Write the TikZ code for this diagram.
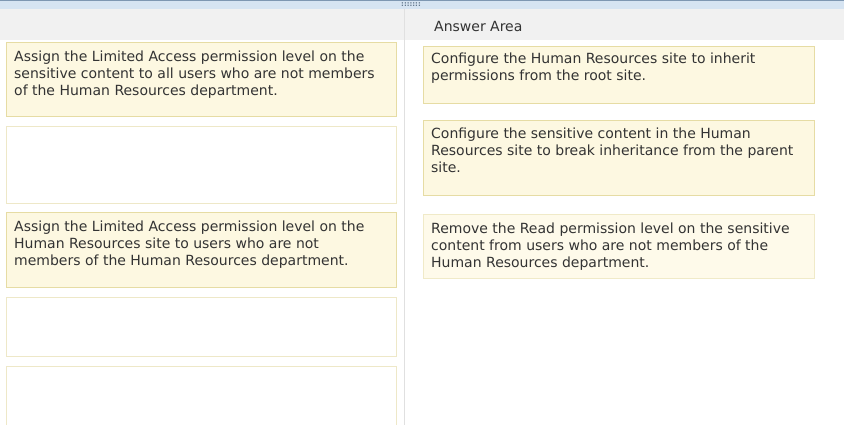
\documentclass[tikz,border=0pt]{standalone}
\usepackage{fontspec}
\setmainfont{DejaVu Sans}
\definecolor{yfill}{HTML}{FDF8E1}
\definecolor{ydraw}{HTML}{E6DCA4}
\definecolor{wdraw}{HTML}{EEE8C8}
\definecolor{hdr}{HTML}{F1F1F1}
\definecolor{topbar}{HTML}{D6E4F2}
\definecolor{topline}{HTML}{7E97B2}
\definecolor{txt}{HTML}{333333}
\begin{document}
\begin{tikzpicture}[x=1pt,y=-1pt,
  fullbox/.style={draw=ydraw,fill=yfill,line width=0.8pt},
  emptybox/.style={draw=wdraw,fill=white,line width=0.8pt},
  lightbox/.style={draw=ydraw!60,fill=yfill!70,line width=0.8pt},
  boxtext/.style={anchor=north west,align=left,inner sep=0pt,text=txt,font=\fontsize{14}{17}\selectfont}]
\useasboundingbox (0,0) rectangle (844,425);
\fill[white] (0,0) rectangle (844,425);
% top bar
\fill[topbar] (0,0) rectangle (844,9);
\draw[topline,line width=1pt] (0,0.8) -- (844,0.8);
\node[font=\fontsize{7}{7}\selectfont\bfseries,text=topline!80!black,inner sep=0pt] (grip) at (411,5) {:::::::};
% header row
\fill[hdr] (0,9) rectangle (844,40);
\node[anchor=west,inner sep=0pt,text=txt,font=\fontsize{14}{15}\selectfont] (aa) at (434,26) {Answer Area};
% divider
\draw[black!12,line width=1pt] (404,9) -- (404,425);
% left boxes
\draw[fullbox] (6,42) rectangle (396,116);
\node[boxtext] (l1) at (14,51) {Assign the Limited Access permission level on the\\sensitive content to all users who are not members\\of the Human Resources department.};
\draw[emptybox] (6,126) rectangle (396,203);
\draw[fullbox] (6,212) rectangle (396,287);
\node[boxtext] (l3) at (14,221) {Assign the Limited Access permission level on the\\Human Resources site to users who are not\\members of the Human Resources department.};
\draw[emptybox] (6,297) rectangle (396,356);
\draw[emptybox] (6,366) rectangle (396,430);
% right boxes
\draw[fullbox] (423,46) rectangle (814,103);
\node[boxtext] (r1) at (431,53) {Configure the Human Resources site to inherit\\permissions from the root site.};
\draw[fullbox] (423,120) rectangle (814,195);
\node[boxtext] (r2) at (431,128) {Configure the sensitive content in the Human\\Resources site to break inheritance from the parent\\site.};
\draw[lightbox] (423,214) rectangle (814,278);
\node[boxtext] (r3) at (431,223) {Remove the Read permission level on the sensitive\\content from users who are not members of the\\Human Resources department.};
\end{tikzpicture}
\end{document}
